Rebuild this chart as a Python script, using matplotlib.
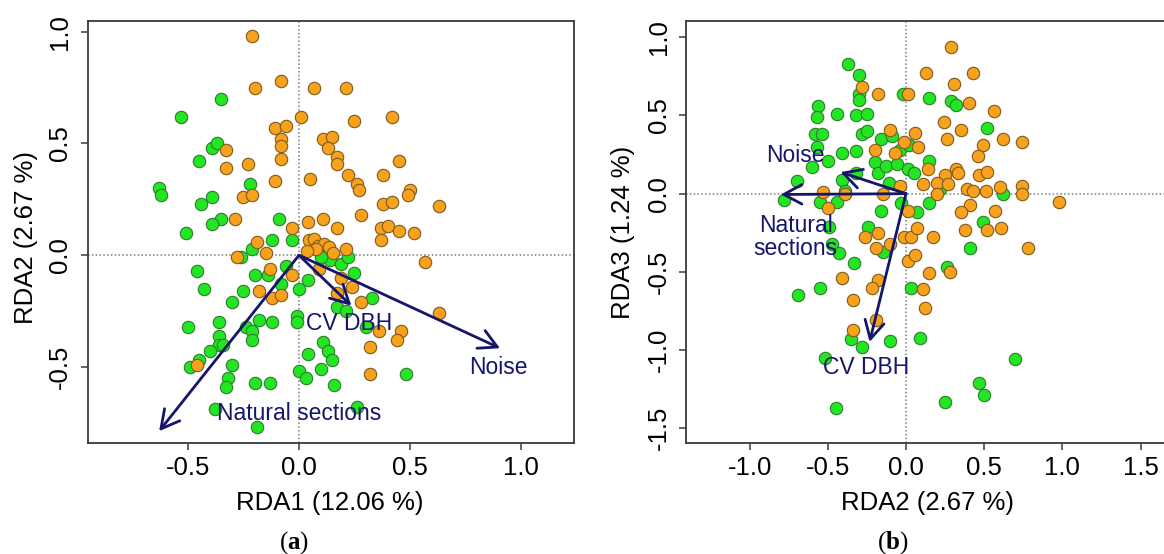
import numpy as np
import matplotlib
matplotlib.use("Agg")
import matplotlib.pyplot as plt

plt.rcParams['font.family'] = ['Liberation Sans', 'DejaVu Sans']
plt.rcParams['axes.unicode_minus'] = False
plt.rcParams['mathtext.fontset'] = 'custom'
plt.rcParams['mathtext.rm'] = 'Liberation Serif'
plt.rcParams['mathtext.bf'] = 'Liberation Serif:bold'

# (a) RDA1 vs RDA2 site scores
a_orange_x = [-0.21, -0.08, -0.20, 0.07, 0.21, 0.01, 0.25, 0.42, -0.11, -0.06, -0.08, -0.08, -0.08,
              0.11, 0.15, 0.13, 0.17, 0.17, -0.33, -0.33, -0.23, 0.45, -0.11, 0.05, 0.22, 0.26, 0.27,
              0.38, -0.25, -0.21, 0.50, 0.49, 0.63, 0.38, 0.42, 0.28, -0.29, -0.03, 0.04, 0.11, 0.17,
              0.37, 0.40, 0.45, 0.52, 0.37, -0.19, -0.15, -0.28, 0.045, 0.07, 0.087, 0.112, 0.078,
              0.037, 0.137, 0.153, 0.212, 0.57, -0.13, -0.03, 0.09, 0.19, 0.24, -0.18, -0.12, -0.08,
              0.17, 0.28, 0.36, 0.46, 0.44, 0.32, 0.32, 0.63, -0.46]
a_orange_y = [0.98, 0.78, 0.75, 0.75, 0.75, 0.62, 0.60, 0.62, 0.57, 0.58, 0.52, 0.49, 0.43,
              0.52, 0.53, 0.48, 0.44, 0.41, 0.47, 0.39, 0.41, 0.42, 0.33, 0.34, 0.36, 0.32, 0.29,
              0.36, 0.26, 0.27, 0.29, 0.27, 0.22, 0.23, 0.24, 0.18, 0.16, 0.12, 0.15, 0.16, 0.12,
              0.12, 0.13, 0.11, 0.10, 0.07, 0.06, 0.01, -0.01, 0.066, 0.074, 0.043, 0.05, 0.027,
              0.019, 0.035, 0.011, 0.027, -0.03, -0.06, -0.09, -0.06, -0.10, -0.14, -0.16, -0.19, -0.18,
              -0.17, -0.21, -0.34, -0.34, -0.38, -0.41, -0.53, -0.26, -0.49]
a_green_x = [-0.35, -0.53, -0.45, -0.39, -0.37, -0.22, -0.63, -0.62, -0.39, -0.44, -0.35, -0.39,
             -0.09, -0.51, -0.12, -0.03, -0.21, -0.26, -0.46, -0.43, -0.06, -0.20, -0.14, -0.08,
             0.00, 0.04, -0.25, -0.30, 0.14, 0.19, 0.22, 0.25, 0.33, 0.17, 0.21, -0.36, -0.50,
             -0.12, -0.18, -0.24, -0.21, -0.21, -0.01, -0.01, -0.36, -0.36, -0.40, -0.34, 0.11,
             0.13, 0.15, 0.04, -0.30, -0.32, -0.33, -0.49, -0.45, -0.20, -0.13, 0.00, 0.03, 0.10,
             0.16, 0.48, -0.38, 0.26, -0.19, 0.30, 0.10]
a_green_y = [0.70, 0.62, 0.42, 0.48, 0.50, 0.32, 0.30, 0.27, 0.26, 0.23, 0.16, 0.14,
             0.16, 0.10, 0.07, 0.07, 0.03, -0.01, -0.07, -0.15, -0.05, -0.09, -0.09, -0.13,
             -0.15, -0.11, -0.16, -0.21, -0.02, -0.04, -0.01, -0.08, -0.19, -0.23, -0.25, -0.30, -0.32,
             -0.30, -0.29, -0.32, -0.34, -0.38, -0.27, -0.30, -0.36, -0.40, -0.43, -0.40, -0.39,
             -0.43, -0.47, -0.44, -0.49, -0.55, -0.59, -0.50, -0.47, -0.57, -0.57, -0.52, -0.55, -0.51,
             -0.58, -0.53, -0.69, -0.68, -0.77, -0.32, -0.01]

# (b) RDA2 vs RDA3 site scores
b_orange_x = [0.29, 0.13, 0.43, -0.28, -0.18, 0.01, 0.31, 0.40, 0.56, 0.24, 0.35, 0.06, -0.10,
              0.26, 0.62, 0.74, -0.01, 0.08, 0.49, 0.46, -0.20, -0.07, 0.14, 0.47, 0.52, 0.32,
              0.33, 0.25, 0.20, 0.11, 0.27, 0.39, 0.43, 0.51, 0.60, 0.74, 0.74, -0.04, -0.15,
              0.20, 0.98, -0.53, -0.39, -0.50, 0.01, 0.41, 0.35, 0.57, 0.38, 0.52, 0.61, -0.26,
              -0.18, -0.10, -0.01, 0.03, 0.07, 0.17, 0.78, -0.19, 0.01, 0.06, 0.15, 0.28, -0.41,
              -0.18, -0.22, 0.11, -0.34, 0.12, -0.19, -0.34]
b_orange_y = [0.94, 0.77, 0.77, 0.68, 0.64, 0.64, 0.70, 0.58, 0.53, 0.46, 0.41, 0.39, 0.41,
              0.35, 0.35, 0.33, 0.33, 0.30, 0.31, 0.24, 0.28, 0.26, 0.16, 0.12, 0.14, 0.16,
              0.13, 0.12, 0.07, 0.06, 0.06, 0.03, 0.02, 0.02, 0.04, 0.05, 0.00, 0.05, 0.00,
              0.00, -0.05, 0.01, 0.00, -0.09, -0.11, -0.07, -0.12, -0.11, -0.23, -0.23, -0.22, -0.28,
              -0.25, -0.32, -0.28, -0.28, -0.22, -0.28, -0.35, -0.35, -0.43, -0.39, -0.51, -0.50, -0.54,
              -0.55, -0.60, -0.61, -0.68, -0.73, -0.81, -0.87]
b_green_x = [-0.37, -0.30, -0.30, -0.30, -0.02, 0.15, 0.29, 0.32, -0.56, -0.57, -0.44, -0.32,
             -0.25, -0.58, -0.54, -0.28, -0.25, -0.16, -0.09, 0.52, -0.57, -0.32, -0.41, -0.50,
             -0.60, -0.04, 0.02, 0.15, -0.20, -0.18, -0.13, -0.06, 0.01, 0.05, -0.32, -0.41,
             -0.39, -0.70, -0.11, 0.22, -0.78, -0.55, -0.44, -0.03, -0.16, 0.07, 0.15, 0.62,
             0.49, -0.49, -0.47, -0.43, -0.24, -0.15, 0.41, -0.33, 0.26, -0.55, 0.03, -0.69,
             0.09, -0.10, -0.35, -0.28, -0.52, 0.70, 0.47, 0.50, 0.25, -0.45]
b_green_y = [0.83, 0.76, 0.64, 0.60, 0.64, 0.61, 0.59, 0.57, 0.56, 0.49, 0.51, 0.50,
             0.51, 0.38, 0.38, 0.38, 0.40, 0.35, 0.37, 0.42, 0.30, 0.27, 0.26, 0.21,
             0.17, 0.28, 0.31, 0.21, 0.20, 0.13, 0.18, 0.19, 0.16, 0.13, 0.13, 0.09,
             0.02, 0.08, 0.07, 0.03, -0.04, -0.05, -0.05, -0.06, -0.11, -0.12, -0.06, 0.00,
             -0.18, -0.21, -0.32, -0.38, -0.21, -0.37, -0.35, -0.44, -0.47, -0.60, -0.60, -0.65,
             -0.92, -0.94, -0.93, -0.98, -1.05, -1.06, -1.21, -1.29, -1.33, -1.37]

# biplot arrows (explanatory variables) and their label positions
var_names = ['Natural sections', 'Noise', 'CV DBH']
a_arrow_x = [-0.63, 0.906, 0.236]
a_arrow_y = [-0.787, -0.416, -0.226]
a_label_x = [0.0, 0.90, 0.228]
a_label_y = [-0.708, -0.503, -0.305]
b_names = ['Natural\nsections', 'Noise', 'CV DBH']
b_arrow_x = [-0.80, -0.419, -0.233]
b_arrow_y = [-0.005, 0.138, -0.948]
b_label_x = [-0.705, -0.705, -0.252]
b_label_y = [-0.28, 0.244, -1.111]

orange = '#f8a11c'
green = '#22e622'
arrow_col = '#15156b'

fig = plt.figure(figsize=(11.64, 5.54), dpi=100)
ax1 = fig.add_axes([0.0753, 0.1995, 0.418, 0.762])
ax2 = fig.add_axes([0.5893, 0.1995, 0.4157, 0.762])


def panel(ax, gx, gy, ox, oy, ax_x, ax_y, lx, ly, names):
    ax.axhline(0, color='#7a7a7a', lw=1.1, ls=(0, (1, 1.5)), zorder=1)
    ax.axvline(0, color='#7a7a7a', lw=1.1, ls=(0, (1, 1.5)), zorder=1)
    ax.scatter(gx, gy, s=80, c=green, edgecolors='#2f7a2f', linewidths=0.8, zorder=2)
    ax.scatter(ox, oy, s=80, c=orange, edgecolors='#7d5a1c', linewidths=0.8, zorder=3)
    for x, y in zip(ax_x, ax_y):
        ax.annotate('', xy=(x, y), xytext=(0, 0),
                    arrowprops=dict(arrowstyle='->,head_length=0.65,head_width=0.35',
                                    color=arrow_col, lw=2, mutation_scale=20,
                                    shrinkA=0, shrinkB=0), zorder=4)
    for name, x, y in zip(names, lx, ly):
        ax.text(x, y, name, color=arrow_col, fontsize=16.5, ha='center', va='center',
                linespacing=1.0, zorder=5)
    for s in ax.spines.values():
        s.set_linewidth(1.3)
        s.set_color('#3a3a3a')
    ax.tick_params(length=5, width=1.1, labelsize=18.5, color='#3a3a3a')
    ax.tick_params(axis='x', pad=4)
    ax.tick_params(axis='y', labelrotation=90, pad=6)
    ax.xaxis.set_major_formatter(matplotlib.ticker.FormatStrFormatter('%.1f'))
    ax.yaxis.set_major_formatter(matplotlib.ticker.FormatStrFormatter('%.1f'))


panel(ax1, a_green_x, a_green_y, a_orange_x, a_orange_y,
      a_arrow_x, a_arrow_y, a_label_x, a_label_y, var_names)
ax1.set_xlim(-0.952, 1.24)
ax1.set_ylim(-0.842, 1.046)
ax1.set_xticks([-0.5, 0.0, 0.5, 1.0])
ax1.set_yticks([-0.5, 0.0, 0.5, 1.0])
for lab in ax1.get_yticklabels():
    lab.set_va('center')

panel(ax2, b_green_x, b_green_y, b_orange_x, b_orange_y,
      b_arrow_x, b_arrow_y, b_label_x, b_label_y, b_names)
ax2.set_xlim(-1.407, 1.687)
ax2.set_ylim(-1.597, 1.102)
ax2.set_xticks([-1.0, -0.5, 0.0, 0.5, 1.0, 1.5])
ax2.set_yticks([-1.5, -1.0, -0.5, 0.0, 0.5, 1.0])
for lab in ax2.get_yticklabels():
    lab.set_va('center')

fig.text(0.2836, 0.0926, 'RDA1 (12.06 %)', fontsize=18.5, ha='center', va='center')
fig.text(0.0223, 0.571, 'RDA2 (2.67 %)', fontsize=18.5, ha='center', va='center', rotation=90)
fig.text(0.797, 0.0926, 'RDA2 (2.67 %)', fontsize=18.5, ha='center', va='center')
fig.text(0.535, 0.581, 'RDA3 (1.24 %)', fontsize=18.5, ha='center', va='center', rotation=90)
fig.text(0.2525, 0.020, r'$\mathrm{(}\mathbf{a}\mathrm{)}$', fontsize=18, ha='center', va='center')
fig.text(0.767, 0.020, r'$\mathrm{(}\mathbf{b}\mathrm{)}$', fontsize=18, ha='center', va='center')

fig.savefig('out.png', dpi=100)
